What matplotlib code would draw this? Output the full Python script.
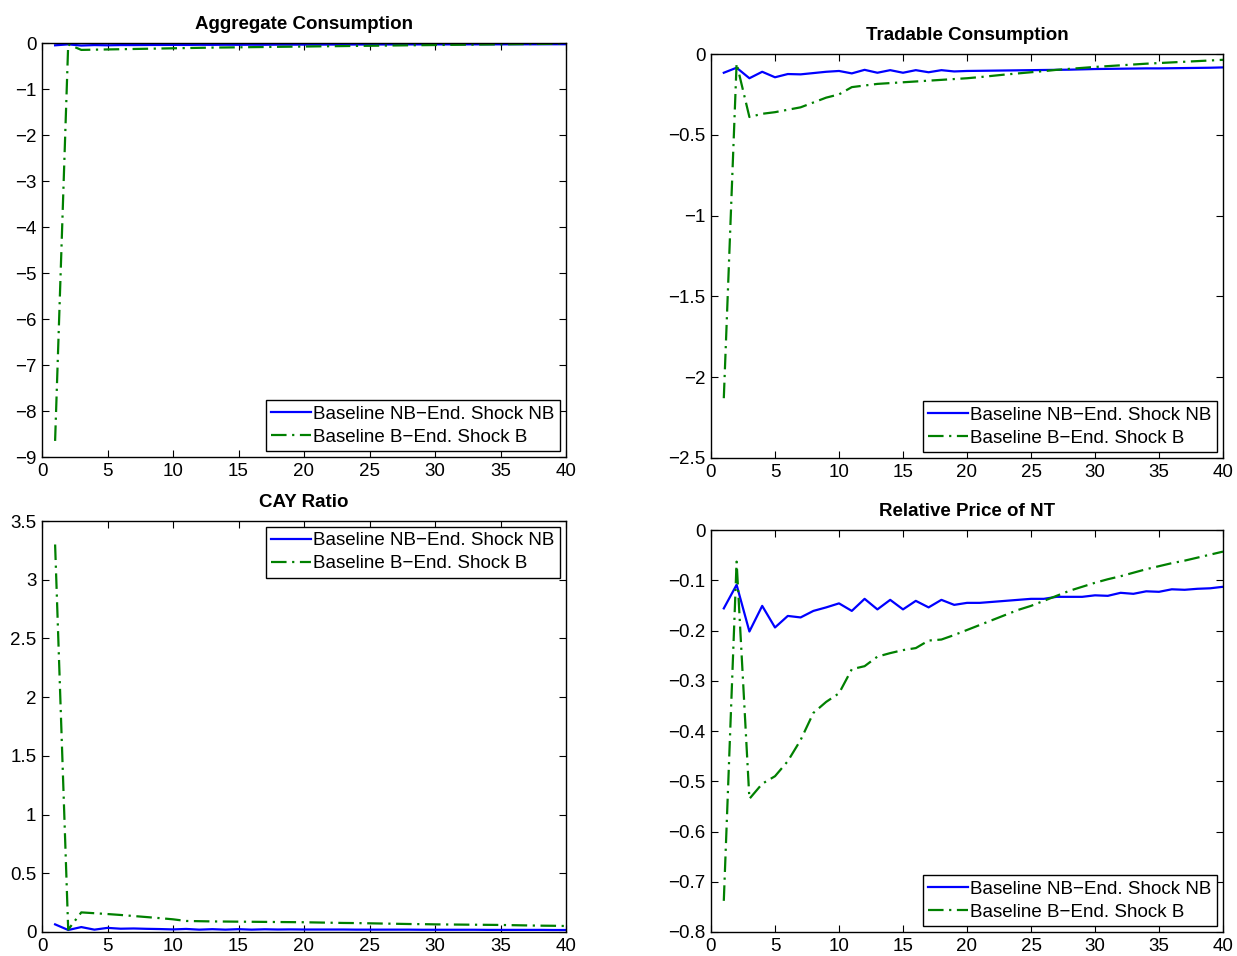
import numpy as np
import matplotlib
matplotlib.use("Agg")
import matplotlib.pyplot as plt
from matplotlib.ticker import FuncFormatter

plt.rcParams["font.family"] = ["Liberation Sans", "DejaVu Sans"]

# horizon
periods = list(range(1, 41))

label_nb = "Baseline NB\u2212End. Shock NB"
label_b = "Baseline B\u2212End. Shock B"

# Aggregate Consumption
agg_nb = [-0.05, -0.03, -0.055, -0.045, -0.05, -0.045, -0.045, -0.043, -0.042, -0.041,
          -0.042, -0.039, -0.04, -0.038, -0.039, -0.037, -0.038, -0.036, -0.036, -0.035,
          -0.035, -0.034, -0.034, -0.033, -0.033, -0.032, -0.032, -0.031, -0.031, -0.03,
          -0.03, -0.03, -0.029, -0.029, -0.029, -0.028, -0.028, -0.028, -0.027, -0.027]
agg_b = [-8.65, -0.03, -0.15, -0.145, -0.14, -0.135, -0.13, -0.125, -0.12, -0.115,
         -0.11, -0.105, -0.10, -0.097, -0.094, -0.09, -0.087, -0.083, -0.08, -0.077,
         -0.073, -0.07, -0.067, -0.063, -0.06, -0.057, -0.053, -0.05, -0.047, -0.044,
         -0.041, -0.038, -0.035, -0.032, -0.029, -0.026, -0.023, -0.02, -0.017, -0.014]

# Tradable Consumption
trad_nb = [-0.116, -0.085, -0.15, -0.11, -0.144, -0.124, -0.126, -0.118, -0.11, -0.105,
           -0.12, -0.098, -0.116, -0.10, -0.116, -0.10, -0.113, -0.10, -0.108, -0.105,
           -0.104, -0.103, -0.102, -0.101, -0.1, -0.099, -0.098, -0.097, -0.095, -0.093,
           -0.092, -0.091, -0.09, -0.089, -0.089, -0.088, -0.087, -0.086, -0.085, -0.083]
trad_b = [-2.13, -0.058, -0.39, -0.37, -0.36, -0.345, -0.33, -0.30, -0.27, -0.25,
          -0.205, -0.195, -0.185, -0.18, -0.175, -0.17, -0.165, -0.16, -0.155, -0.15,
          -0.143, -0.135, -0.127, -0.12, -0.113, -0.106, -0.098, -0.092, -0.086, -0.08,
          -0.075, -0.07, -0.065, -0.06, -0.056, -0.052, -0.048, -0.044, -0.04, -0.036]

# CAY Ratio
cay_nb = [0.065, 0.017, 0.042, 0.02, 0.035, 0.028, 0.03, 0.027, 0.025, 0.022,
          0.026, 0.02, 0.024, 0.02, 0.024, 0.02, 0.023, 0.021, 0.022, 0.021,
          0.021, 0.021, 0.021, 0.02, 0.02, 0.02, 0.02, 0.02, 0.019, 0.019,
          0.019, 0.019, 0.019, 0.018, 0.018, 0.018, 0.018, 0.018, 0.017, 0.017]
cay_b = [3.3, 0.02, 0.167, 0.16, 0.153, 0.145, 0.136, 0.127, 0.118, 0.108,
         0.094, 0.092, 0.09, 0.089, 0.088, 0.087, 0.086, 0.085, 0.084, 0.083,
         0.081, 0.079, 0.077, 0.076, 0.074, 0.072, 0.07, 0.068, 0.067, 0.065,
         0.064, 0.063, 0.062, 0.061, 0.06, 0.058, 0.056, 0.054, 0.053, 0.051]

# Relative Price of NT
nt_nb = [-0.156, -0.109, -0.202, -0.151, -0.194, -0.171, -0.174, -0.161, -0.154, -0.146,
         -0.161, -0.137, -0.158, -0.139, -0.158, -0.141, -0.154, -0.139, -0.149, -0.145,
         -0.145, -0.143, -0.141, -0.139, -0.137, -0.137, -0.133, -0.133, -0.133, -0.13,
         -0.131, -0.125, -0.127, -0.122, -0.123, -0.118, -0.119, -0.117, -0.116, -0.113]
nt_b = [-0.738, -0.063, -0.535, -0.505, -0.49, -0.46, -0.418, -0.364, -0.342, -0.325,
        -0.277, -0.271, -0.252, -0.245, -0.239, -0.235, -0.22, -0.218, -0.209, -0.199,
        -0.189, -0.179, -0.169, -0.159, -0.151, -0.141, -0.131, -0.121, -0.113, -0.105,
        -0.098, -0.092, -0.085, -0.078, -0.072, -0.066, -0.061, -0.055, -0.049, -0.043]

W, H = 1237, 956
fs = 13.5


def px_axes(fig, left, top, right, bottom):
    return fig.add_axes([left / W, 1 - bottom / H, (right - left) / W, (bottom - top) / H])


def fmt(v, _):
    v = round(v, 6)
    if v == 0:
        return "0"
    return ("%g" % v).replace("-", "\u2212")


def panel(ax, title, nb, b, ylim, yticks, loc):
    ax.plot(periods, nb, color=(0, 0, 1), lw=1.6, label=label_nb)
    ax.plot(periods, b, color=(0, 0.5, 0), lw=1.6, ls=(0, (7, 2.5, 1, 2.5)), label=label_b)
    ax.set_xlim(0, 40)
    ax.set_ylim(*ylim)
    ax.set_xticks(range(0, 41, 5))
    ax.set_yticks(yticks)
    ax.xaxis.set_major_formatter(FuncFormatter(fmt))
    ax.yaxis.set_major_formatter(FuncFormatter(fmt))
    ax.tick_params(direction="in", top=True, right=True, length=5, labelsize=fs, pad=4)
    for sp in ax.spines.values():
        sp.set_linewidth(1.0)
    ax.set_title(title, fontsize=13.5, fontweight="bold", pad=10)
    leg = ax.legend(loc=loc, fontsize=fs, frameon=True, fancybox=False, framealpha=1,
                    edgecolor="black", borderaxespad=0.3, borderpad=0.3, labelspacing=0.3,
                    handlelength=2.1, handletextpad=0.15)
    leg.get_frame().set_linewidth(1.0)


fig = plt.figure(figsize=(W / 100, H / 100), dpi=100)

ax1 = px_axes(fig, 42, 43, 566, 457)
panel(ax1, "Aggregate Consumption", agg_nb, agg_b, (-9, 0), np.arange(-9, 0.5, 1), "lower right")

ax2 = px_axes(fig, 711, 54, 1223, 458)
panel(ax2, "Tradable Consumption", trad_nb, trad_b, (-2.5, 0), np.arange(-2.5, 0.01, 0.5), "lower right")

ax3 = px_axes(fig, 42, 521, 566, 932)
panel(ax3, "CAY Ratio", cay_nb, cay_b, (0, 3.5), np.arange(0, 3.51, 0.5), "upper right")

ax4 = px_axes(fig, 711, 530, 1223, 932)
panel(ax4, "Relative Price of NT", nt_nb, nt_b, (-0.8, 0), np.arange(-0.8, 0.001, 0.1), "lower right")

fig.savefig("out.png", dpi=100)
